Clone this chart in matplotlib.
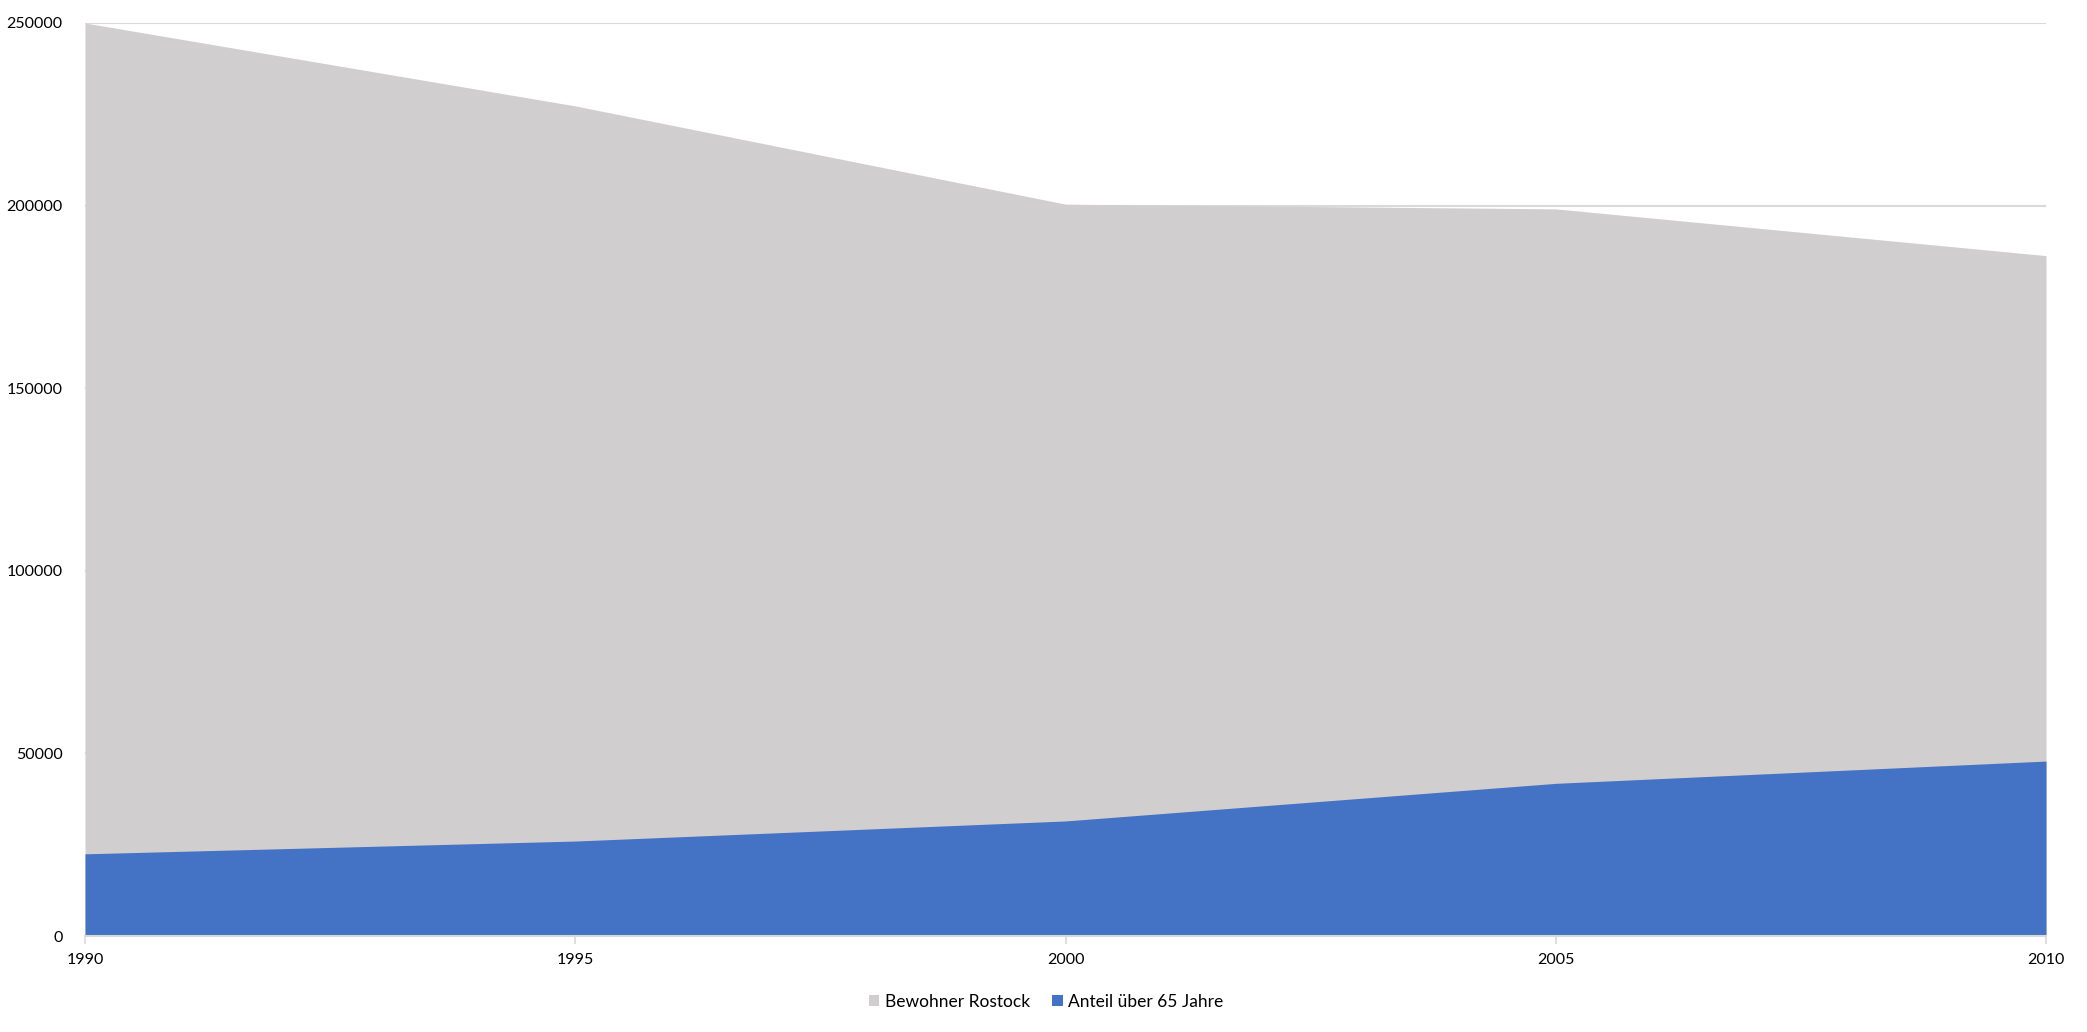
import matplotlib
matplotlib.use("Agg")
import matplotlib.pyplot as plt
import matplotlib.ticker as ticker
from matplotlib.patches import Patch

# values
years = [1990, 1995, 2000, 2005, 2010]
bewohner = [250000, 227300, 200400, 199100, 186300]
ueber_65 = [22500, 26000, 31500, 41800, 47900]
series_labels = ["Bewohner Rostock", "Anteil über 65 Jahre"]
y_ticks = [0, 50000, 100000, 150000, 200000, 250000]

GRAY = "#d0cece"
BLUE = "#4472c4"
GRID = "#d9d9d9"

plt.rcParams["font.family"] = ["Lato", "DejaVu Sans"]

fig = plt.figure(figsize=(20.87, 10.32), dpi=100)
ax = fig.add_axes([85 / 2087, 96 / 1032, (2046 - 85) / 2087, (936 - 23) / 1032])

ax.fill_between(years, 0, bewohner, color=GRAY, linewidth=0, zorder=2)
ax.fill_between(years, 0, ueber_65, color=BLUE, linewidth=0, zorder=3)

ax.set_xlim(years[0], years[-1])
ax.set_ylim(0, 250000)
ax.set_xticks(years)
ax.set_yticks(y_ticks)
ax.yaxis.set_major_formatter(ticker.FuncFormatter(lambda v, p: "{0:d}".format(int(v))))

ax.grid(axis="y", color=GRID, linewidth=1.5, zorder=1)
ax.set_axisbelow(True)
for side in ["top", "right", "left"]:
    ax.spines[side].set_visible(False)
ax.spines["bottom"].set_color(GRID)
ax.spines["bottom"].set_linewidth(1.5)
ax.spines["bottom"].set_zorder(4)

ax.tick_params(axis="y", length=0, pad=16, labelsize=11.5, labelcolor="#000000")
ax.tick_params(axis="x", length=6, width=1.2, color=GRID, pad=6,
               labelsize=11.5, labelcolor="#000000")

handles = [Patch(facecolor=GRAY, edgecolor="none"), Patch(facecolor=BLUE, edgecolor="none")]
fig.legend(handles, series_labels, loc="center", bbox_to_anchor=(1046 / 2087, 1 - 1002 / 1032),
           ncol=2, frameon=False, fontsize=12.5, handlelength=0.6, handleheight=0.6,
           handletextpad=0.3, columnspacing=1.3)

fig.savefig("out.png", dpi=100)
